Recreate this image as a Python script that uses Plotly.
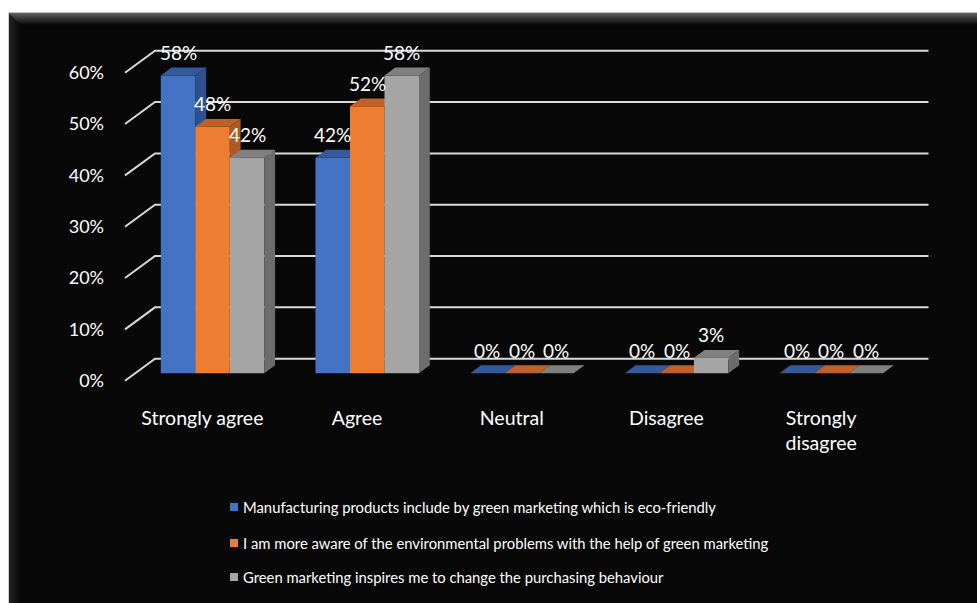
import plotly.graph_objects as go

# ---- data -------------------------------------------------------------
categories = ["Strongly agree", "Agree", "Neutral", "Disagree", "Strongly disagree"]
series_names = [
    "Manufacturing products include by green marketing which is eco-friendly",
    "I am more aware of the environmental problems with the help of green marketing",
    "Green marketing inspires me to change the purchasing behaviour",
]
eco_friendly = [58, 42, 0, 0, 0]
more_aware = [48, 52, 0, 0, 0]
inspires_change = [42, 58, 0, 3, 0]
y_ticks = [0, 10, 20, 30, 40, 50, 60]

series_values = [eco_friendly, more_aware, inspires_change]

# ---- styling ----------------------------------------------------------
front_colors = ["#4472C4", "#ED7D31", "#A5A5A5"]
side_colors = ["#2E5190", "#AE5A24", "#6C6C6C"]
top_colors = ["#34599C", "#BF6129", "#808080"]
bg = "#080808"
grid_color = "#D9D9D9"
font_family = "Lato, Open Sans, sans-serif"

W, H = 977, 603
AXIS_PX = 125                        # front-plane left edge of the category axis
PX_PER_CAT = 154.7
LEFT_PX, RIGHT_PX = 120, 936         # plot area (wider than the floor so lines are not clipped)
TOP_PX, BOTTOM_PX = 30, 390
ZERO_PX = 380.7                      # pixel row of 0% on the front plane
PX_PER_PCT = 5.133

# oblique depth of the floor / back wall, in axis units
depth_dx = 30 / PX_PER_CAT
depth_dy = 22 / PX_PER_PCT
bar_front, bar_back = 0.34, 0.70     # depth fractions of the columns
group_width = 0.669
bar_width = group_width / len(series_values)

plot_w = RIGHT_PX - LEFT_PX
plot_h = BOTTOM_PX - TOP_PX
x_lo = -0.5 - (AXIS_PX - LEFT_PX) / PX_PER_CAT
x_hi = x_lo + plot_w / PX_PER_CAT
y_lo = -(BOTTOM_PX - ZERO_PX) / PX_PER_PCT
y_hi = (ZERO_PX - TOP_PX) / PX_PER_PCT
floor_lo, floor_hi = -0.5, len(categories) - 0.5


def px_x(px):
    return (px - LEFT_PX) / plot_w


def px_y(py):
    return (BOTTOM_PX - py) / plot_h


fig = go.Figure()

# ---- back wall gridlines with the diagonal floor ticks ------------------
gx, gy = [], []
for t in y_ticks:
    gx += [floor_lo, floor_lo + depth_dx, floor_hi + depth_dx, None]
    gy += [t, t + depth_dy, t + depth_dy, None]
fig.add_trace(go.Scatter(x=gx, y=gy, mode="lines", hoverinfo="skip",
                         line=dict(color=grid_color, width=2), showlegend=False))

# ---- 3-D columns: front, side and top faces -----------------------------
fx0 = bar_front * depth_dx
fy0 = bar_front * depth_dy
ddx = (bar_back - bar_front) * depth_dx
ddy = (bar_back - bar_front) * depth_dy

annotations = []
for j, vals in enumerate(series_values):
    front_x, front_y, side_x, side_y, top_x, top_y = [], [], [], [], [], []
    for i, v in enumerate(vals):
        xl = i - group_width / 2 + j * bar_width + fx0
        xr = xl + bar_width
        b = fy0
        h = b + v
        front_x += [xl, xr, xr, xl, xl, None]
        front_y += [b, b, h, h, b, None]
        side_x += [xr, xr + ddx, xr + ddx, xr, xr, None]
        side_y += [b, b + ddy, h + ddy, h, b, None]
        top_x += [xl, xr, xr + ddx, xl + ddx, xl, None]
        top_y += [h, h, h + ddy, h + ddy, h, None]
        annotations.append(dict(
            x=(xl + xr) / 2, y=h, xref="x", yref="y", text=f"{v}%",
            showarrow=False, yshift=23, yanchor="middle",
            font=dict(family=font_family, size=19, color="white")))
    for xs, ys, col in ((front_x, front_y, front_colors[j]),
                        (side_x, side_y, side_colors[j]),
                        (top_x, top_y, top_colors[j])):
        fig.add_trace(go.Scatter(x=xs, y=ys, mode="lines", fill="toself",
                                 fillcolor=col, line=dict(width=0, color=col),
                                 hoverinfo="skip", showlegend=False,
                                 name=series_names[j]))

# ---- legend ------------------------------------------------------------
shapes = []
legend_rows = [507, 543, 577]
for j, name in enumerate(series_names):
    cy = legend_rows[j]
    shapes.append(dict(type="rect", xref="paper", yref="paper",
                       x0=px_x(230), x1=px_x(238), y0=px_y(cy + 4), y1=px_y(cy - 4),
                       fillcolor=front_colors[j], line=dict(width=0)))
    annotations.append(dict(x=px_x(241), y=px_y(cy), xref="paper", yref="paper",
                            text=name, showarrow=False, xanchor="left", yanchor="middle",
                            font=dict(family=font_family, size=14.8, color="white")))

# ---- frame: white page margin and bevelled top edge ----------------------
def frame_rect(x0, x1, y0, y1, color):
    shapes.append(dict(type="rect", xref="paper", yref="paper", layer="above",
                       x0=px_x(x0), x1=px_x(x1), y0=px_y(y1), y1=px_y(y0),
                       fillcolor=color, line=dict(width=0)))


frame_rect(0, W, 0, 12, "white")
frame_rect(0, 8, 0, H, "white")
frame_rect(8, W, 12, 13, "#C4C4C4")
frame_rect(8, 9, 12, H, "#CFCFCF")
steps = 12
for k in range(steps):
    level = int(0x5C - (0x5C - 0x0A) * k / (steps - 1))
    frame_rect(9 + k, W, 13 + k, 14 + k, f"#{level:02x}{level:02x}{level:02x}")
    lv = int(0x22 - (0x22 - 0x08) * k / (steps - 1))
    frame_rect(9 + k, 10 + k, 14 + k, H, f"#{lv:02x}{lv:02x}{lv:02x}")


def wrap(label, limit=15):
    if len(label) <= limit:
        return label
    return "<br>".join(label.split(" "))


fig.update_layout(
    width=W, height=H,
    margin=dict(l=LEFT_PX, r=W - RIGHT_PX, t=TOP_PX, b=H - BOTTOM_PX),
    paper_bgcolor=bg, plot_bgcolor=bg,
    showlegend=False,
    shapes=shapes,
    annotations=annotations,
    xaxis=dict(range=[x_lo, x_hi], showgrid=False, zeroline=False,
               showline=False, tickmode="array", tickvals=list(range(len(categories))),
               ticktext=[wrap(c) for c in categories], ticks="",
               ticklabelstandoff=14,
               tickfont=dict(family=font_family, size=19.5, color="white"),
               fixedrange=True),
    yaxis=dict(range=[y_lo, y_hi], showgrid=False, zeroline=False, showline=False,
               tickmode="array", tickvals=y_ticks, ticktext=[f"{t}%" for t in y_ticks],
               ticks="", ticklabelstandoff=15,
               tickfont=dict(family=font_family, size=18, color="white"),
               fixedrange=True),
)

fig.write_html("out.html")
